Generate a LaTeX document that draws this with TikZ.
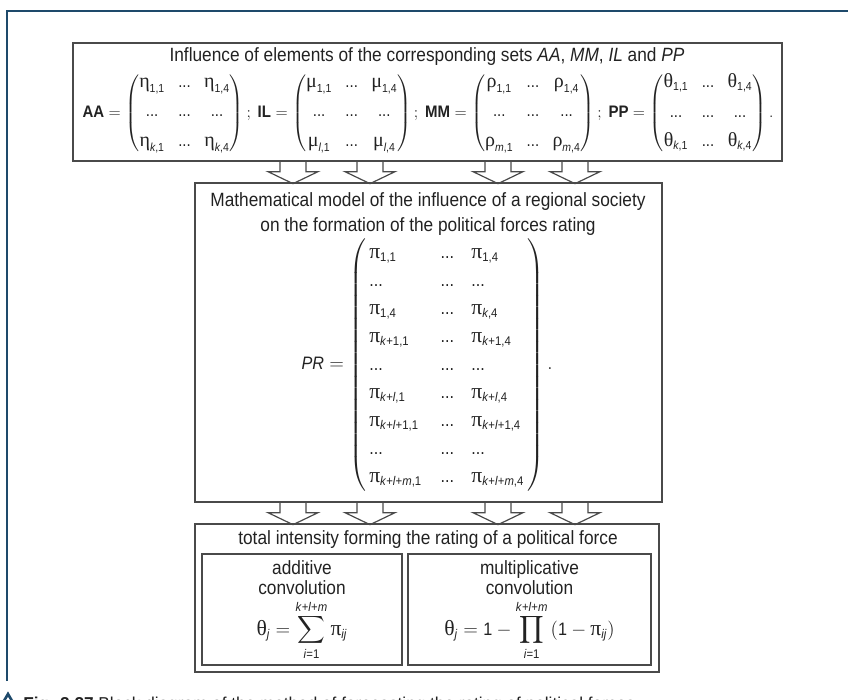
\documentclass[tikz,border=0pt]{standalone}
\usepackage{amsmath}
\usepackage{fontspec}
\setmainfont{Liberation Sans}[FakeStretch=0.9]
\newfontfamily\capfont{Liberation Sans}
\newfontfamily\symfont{Liberation Serif}[Scale=1.2]
\usetikzlibrary{positioning, fit}
\definecolor{framenavy}{HTML}{1E4A6B}
\definecolor{boxgray}{HTML}{4A4A4A}
\definecolor{textdark}{HTML}{222222}

\newcommand{\dts}{\text{...}}
\newcommand{\gk}[1]{\text{\symfont #1}}
\newcommand{\ix}[1]{\text{#1}}
\newcommand{\elemmatrix}[2]{\begin{pmatrix}
  #1_{\ix{1,1}} & \dts & #1_{\ix{1,4}}\\[7pt]
  \dts & \dts & \dts\\[7pt]
  #1_{\ix{\textit{#2},1}} & \dts & #1_{\ix{\textit{#2},4}}
\end{pmatrix}}

\tikzset{
  blockbox/.style={draw=boxgray, line width=1pt, inner sep=0pt},
  boxtext/.style={text=textdark, align=center, font=\fontsize{14.4}{18.75}\selectfont},
  mathtext/.style={text=textdark, align=center, font=\fontsize{12.5}{15}\selectfont},
  downarrow/.pic={\draw[boxgray, line width=0.9pt, line join=miter]
    (-13,0) -- (-13,10) -- (-25,10) -- (0,22) -- (25,10) -- (13,10) -- (13,0);}
}

\begin{document}
\begin{tikzpicture}[x=0.75pt, y=-0.75pt]
  \useasboundingbox (0,0) rectangle (848,699);
  % page frame
  \draw[framenavy, line width=2.2pt] (7,681) -- (7,11) -- (848,11);

  % influence of the sets
  \node[blockbox, fit={(73,43) (782,161)}] (sets) {};
  \node[boxtext] (setstitle) at (427,57)
    {Influence of elements of the corresponding sets \textit{AA}, \textit{MM}, \textit{IL} and \textit{PP}};
  \node[mathtext, font=\fontsize{12.5}{15}\selectfont] (setsmat) at (428,113)
    {$\textbf{AA}=\elemmatrix{\gk{η}}{k};\ \textbf{IL}=\elemmatrix{\gk{μ}}{l};\
      \textbf{MM}=\elemmatrix{\gk{ρ}}{m};\ \textbf{PP}=\elemmatrix{\gk{θ}}{k}.$};

  % mathematical model
  \node[blockbox, fit={(195,183) (662,502)}] (model) {};
  \node[boxtext] (modeltitle) at (428,214)
    {Mathematical model of the influence of a regional society\\on the formation of the political forces rating};
  \node[mathtext, font=\fontsize{13.5}{15}\selectfont] (modelmat) at (427,365)
    {$\textit{PR}=\left(\renewcommand{\arraystretch}{1.4}
      \begin{array}{@{\,}l@{\hspace{14pt}}c@{\hspace{13pt}}l@{\,}}
      \gk{π}_{\ix{1,1}} & \dts & \gk{π}_{\ix{1,4}}\\
      \dts & \dts & \dts\\
      \gk{π}_{\ix{1,4}} & \dts & \gk{π}_{\ix{\textit{k},4}}\\
      \gk{π}_{\ix{\textit{k}+1,1}} & \dts & \gk{π}_{\ix{\textit{k}+1,4}}\\
      \dts & \dts & \dts\\
      \gk{π}_{\ix{\textit{k}+\textit{l},1}} & \dts & \gk{π}_{\ix{\textit{k}+\textit{l},4}}\\
      \gk{π}_{\ix{\textit{k}+\textit{l}+1,1}} & \dts & \gk{π}_{\ix{\textit{k}+\textit{l}+1,4}}\\
      \dts & \dts & \dts\\
      \gk{π}_{\ix{\textit{k}+\textit{l}+\textit{m},1}} & \dts & \gk{π}_{\ix{\textit{k}+\textit{l}+\textit{m},4}}
      \end{array}\right).$};

  % arrows between the blocks
  \foreach \ax in {293,370,498,575} {
    \pic at (sets.south -| \ax,0) {downarrow};
    \pic at (model.south -| \ax,0) {downarrow};
  }

  % total intensity
  \node[blockbox, fit={(195,524) (659,672)}] (total) {};
  \node[boxtext] (totaltitle) at (428,540)
    {total intensity forming the rating of a political force};
  \node[blockbox, fit={(202,554) (402,665)}] (additive) {};
  \node[blockbox, fit={(408,554) (651,665)}] (multiplicative) {};
  \node[boxtext, font=\fontsize{14.4}{15}\selectfont] (addtitle) at (additive.center |- 0,578)
    {additive\\convolution};
  \node[mathtext, font=\fontsize{13.5}{15}\selectfont] (addformula) at (additive.center |- 0,630)
    {$\displaystyle\gk{θ}_{\ix{\textit{j}}}=\sum_{\ix{\textit{i}=1}}^{\ix{\textit{k}+\textit{l}+\textit{m}}}\gk{π}_{\ix{\textit{ij}}}$};
  \node[boxtext, font=\fontsize{14.4}{15}\selectfont] (multtitle) at (multiplicative.center |- 0,578)
    {multiplicative\\convolution};
  \node[mathtext, font=\fontsize{13.5}{15}\selectfont] (multformula) at (multiplicative.center |- 0,630)
    {$\displaystyle\gk{θ}_{\ix{\textit{j}}}=\text{1}-\prod_{\ix{\textit{i}=1}}^{\ix{\textit{k}+\textit{l}+\textit{m}}}\left(\text{1}-\gk{π}_{\ix{\textit{ij}}}\right)$};

  % caption, cut by the lower edge
  \begin{scope}
    \clip (0,0) rectangle (848,699);
    \draw[framenavy, line width=2pt, line join=miter] (1,706) -- (8,694) -- (15,706);
    \node[anchor=base west, inner sep=0pt, text=textdark, font=\capfont\fontsize{12.9}{15}\selectfont]
      (caption) at (23,709)
      {\textbf{Fig. 2.27} Block diagram of the method of forecasting the rating of political forces};
  \end{scope}
\end{tikzpicture}
\end{document}
